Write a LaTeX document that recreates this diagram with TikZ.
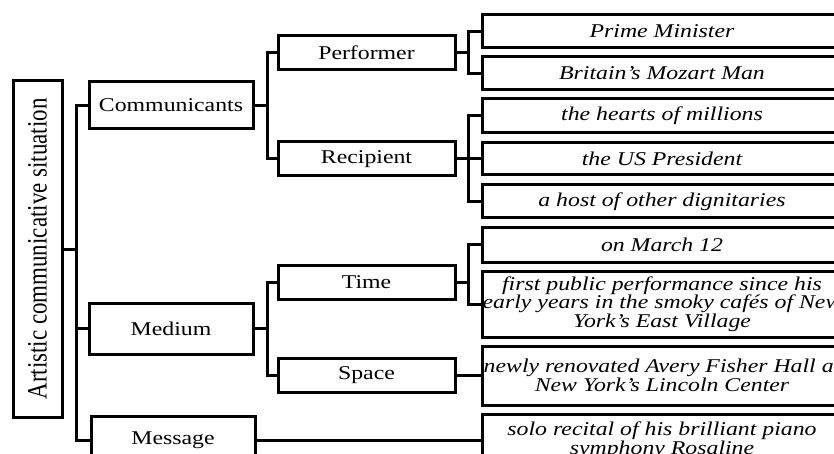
\documentclass[tikz,border=0pt]{standalone}
\usepackage{fontspec}
\setmainfont[FakeStretch=1.22]{Liberation Serif}
\newfontfamily\rootfont[FakeStretch=0.82]{Liberation Serif}

\newcommand{\boxsize}{\fontsize{19.5}{18.5}\selectfont}

\tikzset{
  box/.style={draw, line width=3pt, inner sep=0pt, align=center, font=\boxsize},
  midbox/.style={box, minimum width=177pt, minimum height=34pt},
  leaf/.style={box, minimum width=360pt, font=\itshape\boxsize},
  link/.style={line width=3pt}
}

\begin{document}
\begin{tikzpicture}[x=1pt,y=-1pt]
\useasboundingbox (0,0) rectangle (834,454);
\clip (0,0) rectangle (834,454);

% root
\node[box, rotate=90, minimum width=336pt, minimum height=49pt,
  font=\rootfont\fontsize{28}{30}\selectfont] (root) at (37.5,249) {Artistic communicative situation};

% first level
\node[box, minimum width=164pt, minimum height=47pt] (comm) at (171,105.5) {Communicants};
\node[box, minimum width=164pt, minimum height=51pt] (med) at (171,328.5) {Medium};
\node[box, minimum width=164pt, minimum height=47pt] (msg) at (173,440) {Message};

% second level
\node[midbox] (perf) at (366.5,53) {Performer};
\node[midbox] (reci) at (366.5,159) {Recipient};
\node[midbox] (time) at (366.5,282.5) {Time};
\node[midbox] (space) at (366.5,375.5) {Space};

% leaves
\node[leaf, minimum height=33pt] (l1) at (662,31.5) {Prime Minister};
\node[leaf, minimum height=33pt] (l2) at (662,73.5) {Britain’s Mozart Man};
\node[leaf, minimum height=34pt] (l3) at (662,116) {the hearts of millions};
\node[leaf, minimum height=32pt] (l4) at (662,159) {the US President};
\node[leaf, minimum height=33pt] (l5) at (662,201.5) {a host of other dignitaries};
\node[leaf, minimum height=35pt] (l6) at (662,244.5) {on March 12};
\node[leaf, minimum height=66pt] (l7) at (662,304) {first public performance since his\\
  early years in the smoky cafés of New\\ York’s East Village};
\node[leaf, minimum height=59pt] (l8) at (662,375.5) {newly renovated Avery Fisher Hall at\\ New York’s Lincoln Center};
\node[leaf, minimum height=52pt] (l9) at (662,440) {solo recital of his brilliant piano\\ symphony Rosaline};

% spines
\coordinate (s1) at (76,0);
\coordinate (s2) at (267,0);
\coordinate (s3) at (468,0);

\draw[link] (root.south) -- (root.south -| s1);
\draw[link] (comm.west) -- (comm.west -| s1) -- (msg.west -| s1) -- (msg.west);
\draw[link] (med.west) -- (med.west -| s1);

\draw[link] (comm.east) -- (comm.east -| s2);
\draw[link] (perf.west) -- (perf.west -| s2) -- (reci.west -| s2) -- (reci.west);
\draw[link] (med.east) -- (med.east -| s2);
\draw[link] (time.west) -- (time.west -| s2) -- (space.west -| s2) -- (space.west);

\draw[link] (perf.east) -- (perf.east -| s3);
\draw[link] (l1.west) -- (l1.west -| s3) -- (l2.west -| s3) -- (l2.west);
\draw[link] (reci.east) -- (reci.east -| s3);
\draw[link] (l3.west) -- (l3.west -| s3) -- (l5.west -| s3) -- (l5.west);
\draw[link] (l4.west) -- (l4.west -| s3);
\draw[link] (time.east) -- (time.east -| s3);
\draw[link] (l6.west) -- (l6.west -| s3) -- (l7.west -| s3) -- (l7.west);

\draw[link] (space.east) -- (l8.west);
\draw[link] (msg.east) -- (l9.west);

\end{tikzpicture}
\end{document}
